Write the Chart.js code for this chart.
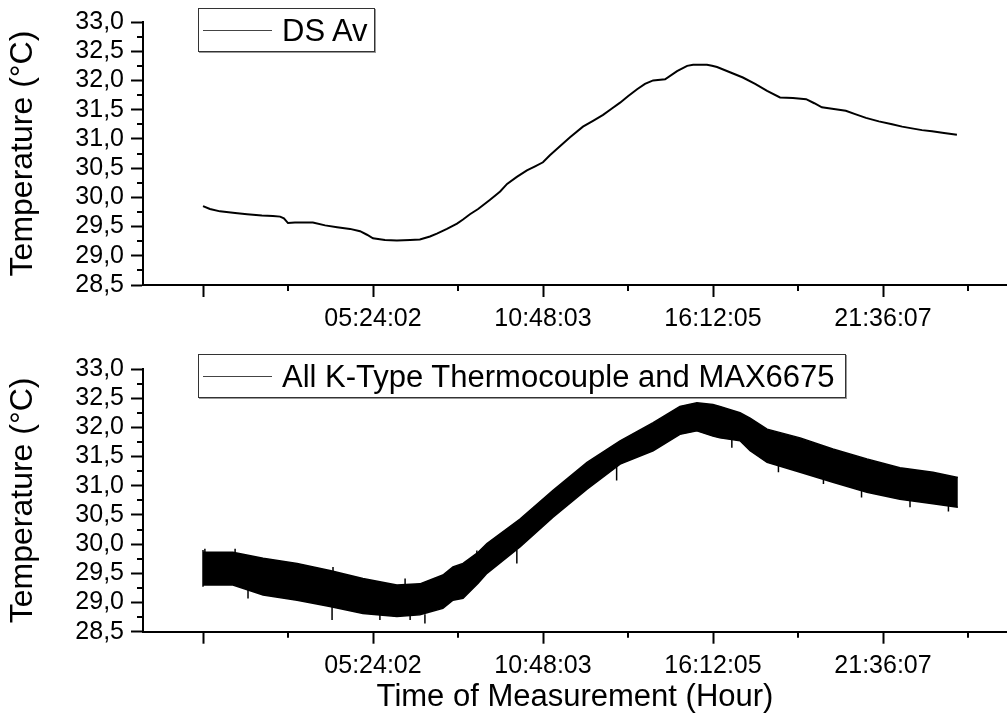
<!DOCTYPE html>
<html>
<head>
<meta charset="utf-8">
<script src="https://cdn.jsdelivr.net/npm/chart.js@4.4.1/dist/chart.umd.min.js"></script>
<style>
  html, body { margin: 0; padding: 0; background: #fff; }
  body { width: 1007px; height: 726px; position: relative; overflow: hidden; font-family: "Liberation Sans", Arial, sans-serif; }
  canvas { position: absolute; left: 0; }
  .legend { position: absolute; box-sizing: border-box; border: 1px solid #333; background: #fff; display: flex; align-items: center; box-shadow: 1px 1px 0 #999; }
  .legend .sample { margin-left: 4px; width: 69px; border-top: 1px solid #444; }
  .legend .txt { margin-left: 10px; font-size: 31px; line-height: 1; color: #000; white-space: nowrap; }
</style>
</head>
<body>
<canvas id="c1" width="1007" height="345" style="top:0px"></canvas>
<canvas id="c2" width="1007" height="379" style="top:347px"></canvas>
<div class="legend" style="left:198px; top:8px; width:177px; height:44px;"><span class="sample"></span><span class="txt">DS Av</span></div>
<div class="legend" style="left:198px; top:354px; width:648px; height:44px;"><span class="sample"></span><span class="txt">All K-Type Thermocouple and MAX6675</span></div>
<script>
// ---- Data (time in hours since start, temperature in °C) ----
const dsHours = [0.00,0.22,0.54,1.02,1.40,1.87,2.22,2.45,2.57,2.70,2.92,3.49,3.88,4.26,4.67,4.99,5.21,5.40,5.78,6.16,6.58,6.89,7.21,7.43,7.75,8.07,8.26,8.48,8.74,9.12,9.44,9.66,9.97,10.29,10.55,10.80,11.02,11.25,11.66,12.07,12.39,12.71,12.99,13.25,13.50,13.79,14.04,14.30,14.68,15.06,15.38,15.57,16.01,16.17,16.33,16.74,17.15,17.54,17.92,18.33,18.74,19.16,19.42,19.66,20.04,20.42,20.74,21.06,21.47,21.89,22.21,22.52,22.84,23.16,23.54,23.95];
const dsTemp  = [29.85,29.80,29.76,29.73,29.71,29.69,29.68,29.67,29.64,29.56,29.57,29.57,29.52,29.49,29.46,29.42,29.36,29.30,29.27,29.26,29.27,29.28,29.33,29.38,29.46,29.55,29.62,29.71,29.80,29.96,30.10,30.23,30.35,30.46,30.53,30.60,30.72,30.83,31.03,31.21,31.31,31.41,31.52,31.62,31.73,31.85,31.94,32.00,32.02,32.16,32.25,32.27,32.27,32.25,32.23,32.14,32.05,31.94,31.82,31.71,31.70,31.68,31.61,31.54,31.51,31.48,31.42,31.36,31.30,31.25,31.21,31.18,31.15,31.13,31.10,31.07];

// Noisy thermocouple trace: upper / lower edges of the noise band
const tcHours = [0.00,0.95,1.91,2.99,4.03,5.08,6.16,6.89,7.62,7.94,8.26,8.74,9.02,10.07,11.12,12.20,13.25,14.30,15.15,15.69,16.20,16.42,17.06,17.38,17.92,18.97,20.01,21.09,22.14,23.19,23.98];
const tcUpper = [29.86,29.86,29.76,29.67,29.55,29.41,29.30,29.32,29.47,29.61,29.67,29.86,30.01,30.43,30.92,31.40,31.77,32.08,32.36,32.42,32.39,32.36,32.25,32.16,31.97,31.82,31.63,31.46,31.31,31.23,31.14];
const tcLower = [29.30,29.30,29.13,29.04,28.93,28.81,28.76,28.79,28.90,29.04,29.07,29.33,29.50,29.95,30.46,30.94,31.37,31.60,31.88,31.94,31.85,31.82,31.77,31.60,31.40,31.23,31.06,30.89,30.77,30.69,30.63];
// Individual noise spikes sticking out of the band (time, band edge, spike tip)
const spikeHours = [0.00,0.06,1.02,1.43,4.10,4.13,5.62,6.42,6.58,7.05,8.70,9.97,13.14,16.80,18.28,19.71,20.92,22.46,23.68];
const spikeFrom  = [29.27,29.86,29.86,29.22,28.93,29.53,28.79,29.30,28.77,28.80,29.82,29.90,31.35,31.80,31.35,31.10,30.92,30.75,30.66];
const spikeTo    = [29.90,29.92,29.92,29.07,28.70,29.61,28.70,29.41,28.70,28.64,29.89,29.67,31.09,31.65,31.23,31.03,30.80,30.63,30.56];

// ---- Axes ----
const xMin = -1.90605, xMax = 25.5410;
const xTickHours  = [0, 5.40047, 10.80094, 16.20142, 21.60189];
const xTickLabels = ['', '05:24:02', '10:48:03', '16:12:05', '21:36:07'];
const xMinorHours = [2.70024, 8.10071, 13.50118, 18.90165, 24.30212];
const yMin = 28.5, yMax = 33.0, yStep = 0.5;
const yMinor = [28.75, 29.25, 29.75, 30.25, 30.75, 31.25, 31.75, 32.25, 32.75];

const FONT = "'Liberation Sans', Arial, sans-serif";
const pts = (xs, ys) => xs.map((h, i) => ({ x: h, y: ys[i] }));
const spikePts = [];
spikeHours.forEach((h, i) => {
  spikePts.push({ x: h, y: spikeFrom[i] }, { x: h, y: spikeTo[i] }, { x: h, y: null });
});

const minorTicks = {
  id: 'minorTicks',
  afterDraw(chart) {
    const { ctx, chartArea, scales: { x, y } } = chart;
    ctx.save();
    ctx.strokeStyle = '#000';
    ctx.lineWidth = 2;
    xMinorHours.forEach(v => {
      const px = Math.round(x.getPixelForValue(v));
      ctx.beginPath(); ctx.moveTo(px, chartArea.bottom); ctx.lineTo(px, chartArea.bottom + 6); ctx.stroke();
    });
    yMinor.forEach(v => {
      const py = Math.round(y.getPixelForValue(v));
      ctx.beginPath(); ctx.moveTo(chartArea.left, py); ctx.lineTo(chartArea.left - 6, py); ctx.stroke();
    });
    ctx.restore();
  }
};

function makeOptions(xAxisHeight, showXTitle) {
  return {
    responsive: false,
    animation: false,
    layout: { padding: { top: 20.7, right: 0, bottom: 0, left: 0 } },
    plugins: { legend: { display: false }, tooltip: { enabled: false } },
    scales: {
      x: {
        type: 'linear', min: xMin, max: xMax, offset: false,
        afterBuildTicks: s => { s.ticks = xTickHours.map(v => ({ value: v })); },
        afterFit: s => { s.height = xAxisHeight; },
        ticks: {
          autoSkip: false, maxRotation: 0, padding: 7, color: '#000',
          font: { family: FONT, size: 25 },
          callback: (v, i) => xTickLabels[i]
        },
        grid: { drawOnChartArea: false, drawTicks: true, tickLength: 12, tickWidth: 2, tickColor: '#000' },
        border: { display: true, width: 2, color: '#000' },
        title: {
          display: showXTitle, text: 'Time of Measurement (Hour)', color: '#000',
          font: { family: FONT, size: 31 }, padding: { top: 0, bottom: 10 }
        }
      },
      y: {
        type: 'linear', min: yMin, max: yMax,
        afterFit: s => { s.width = 143; },
        ticks: {
          stepSize: yStep, autoSkip: false, padding: 7, color: '#000',
          font: { family: FONT, size: 25 },
          callback: v => Number(v).toFixed(1).replace('.', ',')
        },
        grid: { drawOnChartArea: false, drawTicks: true, tickLength: 12, tickWidth: 2, tickColor: '#000' },
        border: { display: true, width: 2, color: '#000' },
        title: {
          display: true, text: 'Temperature (°C)', color: '#000',
          font: { family: FONT, size: 32 }, padding: { top: 4, bottom: 0 }
        }
      }
    }
  };
}

new Chart(document.getElementById('c1'), {
  type: 'line',
  data: {
    datasets: [{
      label: 'DS Av', data: pts(dsHours, dsTemp),
      borderColor: '#000', borderWidth: 2, pointRadius: 0, fill: false, tension: 0
    }]
  },
  options: makeOptions(60, false),
  plugins: [minorTicks]
});

new Chart(document.getElementById('c2'), {
  type: 'line',
  data: {
    datasets: [
      { label: 'upper', data: pts(tcHours, tcUpper), borderColor: '#000', borderWidth: 1.5, pointRadius: 0, fill: false, tension: 0 },
      { label: 'All K-Type Thermocouple and MAX6675', data: pts(tcHours, tcLower), borderColor: '#000', borderWidth: 1.5, pointRadius: 0, fill: '-1', backgroundColor: '#000', tension: 0 },
      { label: 'spikes', data: spikePts, borderColor: '#000', borderWidth: 1.5, pointRadius: 0, fill: false, spanGaps: false, tension: 0 }
    ]
  },
  options: makeOptions(379 - 284.7, true),
  plugins: [minorTicks]
});
</script>
</body>
</html>
